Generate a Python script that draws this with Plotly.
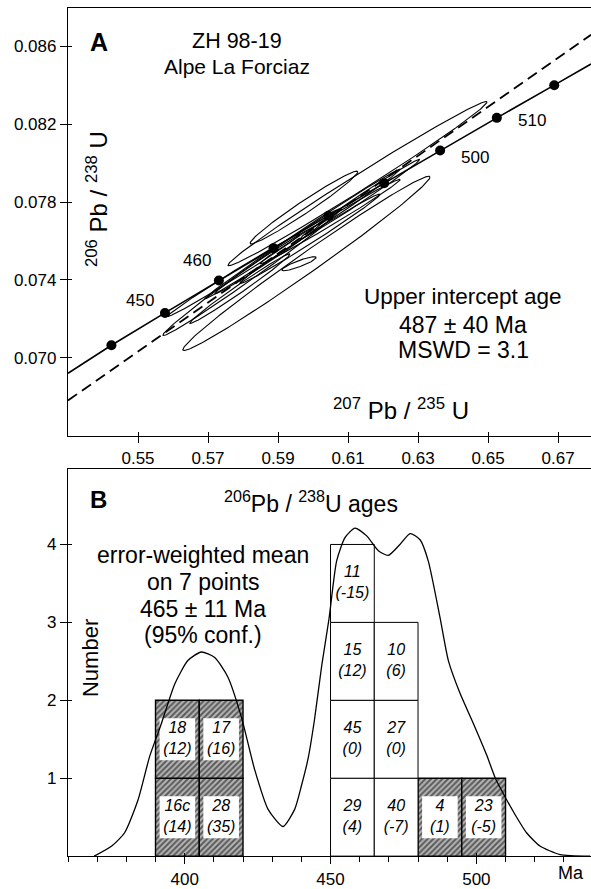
import numpy as np
import plotly.graph_objects as go

FONT = "Liberation Sans, Arial, Helvetica, sans-serif"
INK = "black"
W, H = 591, 889

# ── Panel A: concordia diagram ───────────────────────────────────────────
conc_age = [440, 450, 460, 470, 480, 490, 500, 510, 520]
conc_x = [0.5424, 0.5577, 0.5731, 0.5887, 0.6044, 0.6203, 0.6363, 0.6525, 0.6689]
conc_y = [0.07064, 0.07230, 0.07397, 0.07563, 0.07730, 0.07897, 0.08065, 0.08233, 0.08401]
labelled_ages = [450, 460, 500, 510]

# concordia as drawn, running off both edges of the frame
conc_line_x = [0.5300] + conc_x + [0.6794]
conc_line_y = [0.0692] + conc_y + [0.0851]

# discordia (regression) line
disc_x = [0.5300, 0.6794]
disc_y = [0.0678, 0.0866]

# error ellipses: centre, half-extent in x / y, correlation
ell_x = [0.6127, 0.5981, 0.5824, 0.5774, 0.5974, 0.5960, 0.5970, 0.5991, 0.6134, 0.5791, 0.5870, 0.6049]
ell_y = [0.07895, 0.07485, 0.07439, 0.07424, 0.07772, 0.07483, 0.07636, 0.07611, 0.07815, 0.07355, 0.07508, 0.07700]
ell_sx = [0.0370, 0.0353, 0.0253, 0.0189, 0.0154, 0.0049, 0.0279, 0.0200, 0.0171, 0.0143, 0.0150, 0.0200]
ell_sy = [0.00422, 0.00448, 0.00325, 0.00212, 0.00187, 0.00036, 0.00333, 0.00230, 0.00205, 0.00179, 0.00179, 0.00217]
ell_rho = [0.9934, 0.9901, 0.9932, 0.995, 0.980, 0.886, 0.9973, 0.9929, 0.9945, 0.9903, 0.9928, 0.9939]

x_ticks = [0.55, 0.57, 0.59, 0.61, 0.63, 0.65, 0.67]
y_ticks = [0.070, 0.074, 0.078, 0.082, 0.086]

# ── Panel B: 206Pb/238U age histogram ────────────────────────────────────
bin_width = 15
box_left = [390, 390, 405, 405, 450, 450, 450, 450, 465, 465, 465, 480, 495]
box_level = [0, 1, 0, 1, 0, 1, 2, 3, 0, 1, 2, 0, 0]
box_grain = ["16c", "18", "28", "17", "29", "45", "15", "11", "40", "27", "10", "4", "23"]
box_disc = ["14", "12", "35", "16", "4", "0", "12", "-15", "-7", "0", "6", "1", "-5"]
box_hatched = [True, True, True, True, False, False, False, False, False, False, False, True, True]

# probability density curve
pdf_age = [369, 375, 379.4, 384, 388, 392, 396.6, 401.1, 405.7, 410.3, 414.8, 419.4, 424,
           428.6, 433.7, 437.7, 440, 442.3, 444.5, 447, 449.5, 452.1, 455, 458.4, 462.4,
           466.4, 469.8, 473.8, 477.3, 480.7, 483.5, 487.5, 490.4, 494.4, 499, 503.5,
           506.5, 510, 513, 517.2, 521.8, 528.7, 539]
pdf_n = [0, 0.13, 0.30, 0.72, 1.28, 1.70, 2.21, 2.51, 2.62, 2.55, 2.30, 1.79, 1.11,
         0.60, 0.38, 0.60, 0.90, 1.25, 1.75, 2.45, 3.05, 3.79, 4.09, 4.21, 4.11,
         3.92, 3.86, 4.00, 4.14, 4.06, 3.79, 3.07, 2.51, 2.09, 1.70, 1.30,
         1.00, 0.75, 0.55, 0.30, 0.13, 0.02, 0]
b_ticks = [400, 450, 500]
n_ticks = [1, 2, 3, 4]


def px(x, y):
    """pixel position -> paper coords"""
    return x / W, 1 - y / H


fig = go.Figure()

# ellipses
t = np.linspace(0, 2 * np.pi, 240)
for cx, cy, sx, sy, r in zip(ell_x, ell_y, ell_sx, ell_sy, ell_rho):
    ex = cx + sx * np.cos(t)
    ey = cy + sy * (r * np.cos(t) + np.sqrt(1 - r * r) * np.sin(t))
    fig.add_trace(go.Scatter(x=ex, y=ey, mode="lines", line=dict(color=INK, width=1.1),
                             hoverinfo="skip", xaxis="x", yaxis="y"))

fig.add_trace(go.Scatter(x=disc_x, y=disc_y, mode="lines",
                         line=dict(color=INK, width=1.8, dash="11px,6px"),
                         hoverinfo="skip", xaxis="x", yaxis="y"))
fig.add_trace(go.Scatter(x=conc_line_x, y=conc_line_y, mode="lines",
                         line=dict(color=INK, width=1.6), hoverinfo="skip",
                         xaxis="x", yaxis="y"))
fig.add_trace(go.Scatter(x=conc_x, y=conc_y, mode="markers",
                         marker=dict(color=INK, size=10), text=conc_age,
                         hoverinfo="text", xaxis="x", yaxis="y"))

# histogram boxes
centers = [l + bin_width / 2 for l in box_left]
hx = [c for c, h in zip(centers, box_hatched) if h]
hb = [b for b, h in zip(box_level, box_hatched) if h]
wx = [c for c, h in zip(centers, box_hatched) if not h]
wb = [b for b, h in zip(box_level, box_hatched) if not h]

fig.add_trace(go.Bar(x=hx, y=[1] * len(hx), base=hb, width=bin_width,
                     marker=dict(color="#9a9a9a", line=dict(color=INK, width=1.4),
                                 pattern=dict(shape="/", fgcolor="#000", bgcolor="#b5b5b5",
                                              size=4, solidity=0.5)),
                     hoverinfo="skip", xaxis="x2", yaxis="y2"))
fig.add_trace(go.Bar(x=wx, y=[1] * len(wx), base=wb, width=bin_width,
                     marker=dict(color="white", line=dict(color=INK, width=1)),
                     hoverinfo="skip", xaxis="x2", yaxis="y2"))
# white label windows inside hatched boxes
fig.add_trace(go.Bar(x=hx, y=[0.54] * len(hx), base=[b + 0.23 for b in hb], width=12.2,
                     marker=dict(color="white", line=dict(width=0)),
                     hoverinfo="skip", xaxis="x2", yaxis="y2"))
fig.add_trace(go.Scatter(x=centers, y=[b + 0.5 for b in box_level], mode="text",
                         text=[f"<i>{g}</i><br><i>({d})</i>" for g, d in zip(box_grain, box_disc)],
                         textfont=dict(family=FONT, size=16, color=INK),
                         hoverinfo="skip", xaxis="x2", yaxis="y2"))
fig.add_trace(go.Scatter(x=pdf_age, y=pdf_n, mode="lines",
                         line=dict(color=INK, width=1.3, shape="spline", smoothing=0.6),
                         hoverinfo="skip", xaxis="x2", yaxis="y2"))

axis_common = dict(showline=True, linecolor=INK, linewidth=1.3, ticks="outside",
                   ticklen=6, tickwidth=1.3, tickcolor=INK, showgrid=False,
                   zeroline=False, fixedrange=True,
                   tickfont=dict(family=FONT, size=17, color=INK))
# twin axes that only add the inner half of the crossing tick marks
inner = dict(ticks="inside", ticklen=4, tickwidth=1.3, tickcolor=INK,
             showticklabels=False, showline=False, showgrid=False,
             zeroline=False, fixedrange=True)

dom_x = [68 / W, 1]
dom_a = [1 - 438 / H, 1 - 8 / H]
dom_b = [1 - 860 / H, 1 - 471 / H]
rng_ax, rng_ay = [0.5300, 0.6794], [0.06597, 0.08798]
rng_bx, rng_by = [360, 539.3], [0, 4.97]

# invisible anchors so the twin tick axes get drawn
fig.add_trace(go.Scatter(x=rng_ax, y=rng_ay, mode="markers", marker=dict(opacity=0),
                         hoverinfo="skip", xaxis="x3", yaxis="y3"))
fig.add_trace(go.Scatter(x=rng_bx, y=rng_by, mode="markers", marker=dict(opacity=0),
                         hoverinfo="skip", xaxis="x4", yaxis="y4"))

fig.update_layout(
    width=W, height=H, margin=dict(l=0, r=0, t=0, b=0),
    paper_bgcolor="white", plot_bgcolor="white", showlegend=False,
    barmode="overlay", font=dict(family=FONT, color=INK),
    xaxis=dict(axis_common, domain=dom_x, range=rng_ax, anchor="y",
               mirror=True, tickvals=x_ticks, ticktext=[f"{v:.2f}" for v in x_ticks]),
    yaxis=dict(axis_common, domain=dom_a, range=rng_ay,
               anchor="x", ticklen=7, tickvals=y_ticks,
               ticktext=[f"{v:.3f}" for v in y_ticks]),
    xaxis2=dict(axis_common, domain=dom_x, range=rng_bx, anchor="y2",
                mirror=True, tickvals=b_ticks, ticklen=7,
                minor=dict(dtick=10, tick0=0, ticks="outside", ticklen=5,
                           tickwidth=1.2, tickcolor=INK, showgrid=False)),
    yaxis2=dict(axis_common, domain=dom_b, range=rng_by,
                anchor="x2", ticklen=7, tickvals=n_ticks),
    xaxis3=dict(inner, overlaying="x", anchor="y3", domain=dom_x, range=rng_ax,
                tickvals=x_ticks),
    yaxis3=dict(inner, overlaying="y", anchor="x3", domain=dom_a, range=rng_ay,
                tickvals=y_ticks),
    xaxis4=dict(inner, overlaying="x2", anchor="y4", domain=dom_x, range=rng_bx,
                tickvals=b_ticks, ticklen=3),
    yaxis4=dict(inner, overlaying="y2", anchor="x4", domain=dom_b, range=rng_by,
                tickvals=n_ticks),
)


def note(text, x, y, size=21, anchor="center", **kw):
    xp, yp = px(x, y)
    fig.add_annotation(xref="paper", yref="paper", x=xp, y=yp, text=text,
                       showarrow=False, xanchor=anchor, yanchor="middle",
                       font=dict(family=FONT, size=size, color=INK), **kw)


# panel A texts
note("<b>A</b>", 88, 42, size=25, anchor="left")
note("ZH 98-19", 237, 41, size=21.5)
note("Alpe La Forciaz", 237, 67)
note("Upper intercept age", 463, 298, size=22.5)
note("487 ± 40 Ma", 463, 326, size=23)
note("MSWD = 3.1", 463, 352, size=23)
note("<sup>207</sup> Pb / <sup>235</sup> U", 401, 411, size=24)
note("<sup>206</sup> Pb / <sup>238</sup> U", 97, 200, size=24, textangle=-90)

label_shift = {450: (-25, 12), 460: (-22, 20), 500: (35, -7), 510: (35, -3)}
for a in labelled_ages:
    i = conc_age.index(a)
    dx, dy = label_shift[a]
    fig.add_annotation(x=conc_x[i], y=conc_y[i], xref="x", yref="y", text=str(a),
                       showarrow=False, xshift=dx, yshift=dy,
                       font=dict(family=FONT, size=17, color=INK))

# panel B texts
note("<b>B</b>", 88, 502, size=24, anchor="left")
note("<sup>206</sup>Pb / <sup>238</sup>U ages", 311, 504, size=23)
note("error-weighted mean", 203, 558, size=23)
note("on 7 points", 203, 585, size=23)
note("465 ± 11 Ma", 203, 612, size=23)
note("(95% conf.)", 203, 638, size=23)
note("Number", 90, 661, size=22, textangle=-90)
note("Ma", 571, 877, size=18)

fig.write_html("out.html", config={"displayModeBar": False},
               post_script="document.body.style.margin='0px';")
